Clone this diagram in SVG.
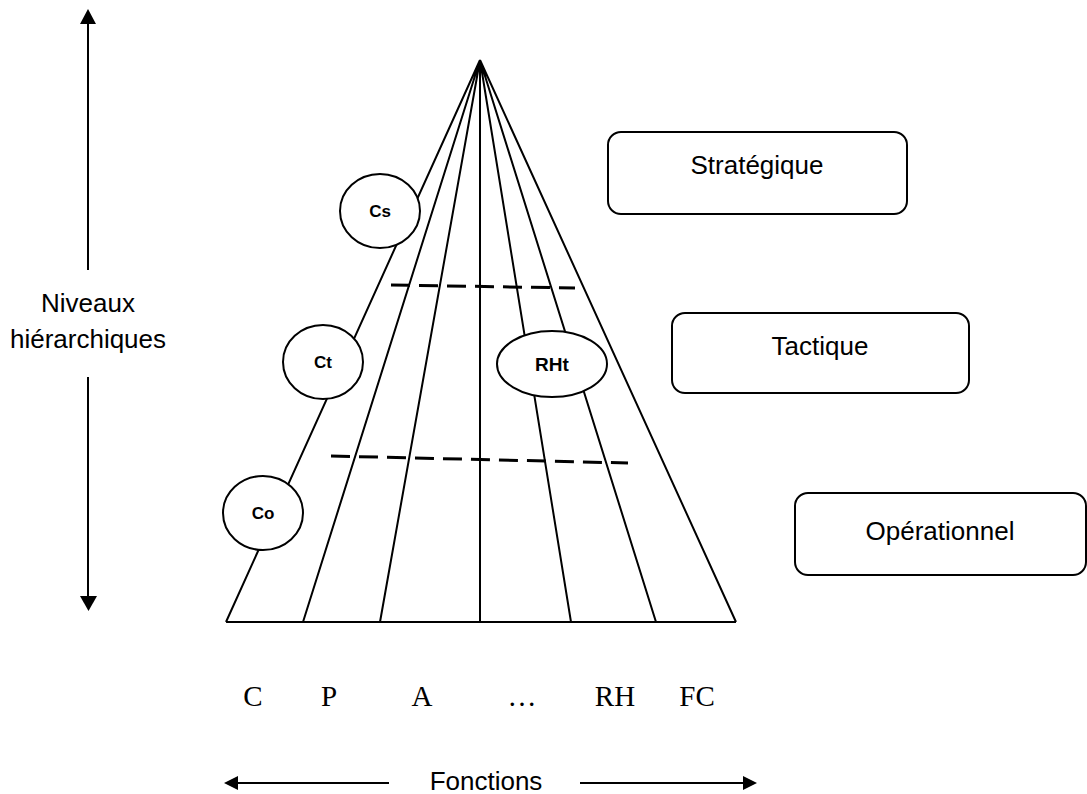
<svg xmlns="http://www.w3.org/2000/svg" width="1087" height="794" viewBox="0 0 1087 794">
<style>
.ln{stroke:#000;stroke-width:2;fill:none}
.dash{stroke:#000;stroke-width:3;stroke-dasharray:19 9;fill:none}
.node{fill:#fff;stroke:#000;stroke-width:2}
.sans{font-family:"Liberation Sans",Arial,sans-serif;font-size:26px;fill:#000;text-anchor:middle}
.lbl{font-family:"Liberation Sans",Arial,sans-serif;font-size:17px;font-weight:bold;fill:#000;text-anchor:middle}
.serif{font-family:"Liberation Serif","Times New Roman",serif;font-size:29px;fill:#000;text-anchor:middle}
</style>
<rect width="1087" height="794" fill="#fff"/>
<g id="connectors">
<path class="ln" d="M480,60 L226,622 M480,60 L303,622 M480,60 L380,622 M480,60 L480,622 M480,60 L571,622 M480,60 L656,622 M480,60 L736,622 M226,622 L736,622"/>
<path class="dash" d="M391,285 L575,288"/>
<path class="dash" d="M331,456 L628,463"/>
<line x1="88" y1="270" x2="88" y2="24" class="ln"/>
<path d="M80,24 L96,24 L88,9 Z" fill="#000"/>
<line x1="88" y1="377" x2="88" y2="596" class="ln"/>
<path d="M80,596 L97,596 L88.5,611 Z" fill="#000"/>
<line x1="389" y1="783" x2="238" y2="783" class="ln"/>
<path d="M238,776 L238,790 L224,783 Z" fill="#000"/>
<line x1="580" y1="783" x2="743" y2="783" class="ln"/>
<path d="M743,776 L743,790 L757,783 Z" fill="#000"/>
</g>
<g id="node-cs"><ellipse class="node" cx="380" cy="211" rx="40" ry="37"/><text class="lbl" x="380" y="217">Cs</text></g>
<g id="node-ct"><ellipse class="node" cx="323" cy="362" rx="40" ry="37"/><text class="lbl" x="323" y="368">Ct</text></g>
<g id="node-rht"><ellipse class="node" cx="552" cy="364" rx="55" ry="33"/><text class="lbl" x="552" y="371" style="font-size:19px">RHt</text></g>
<g id="node-co"><ellipse class="node" cx="263" cy="513" rx="40" ry="37"/><text class="lbl" x="263" y="519">Co</text></g>
<g id="node-strategique"><rect class="node" x="608" y="132" width="299" height="82" rx="13"/><text class="sans" x="757" y="174">Stratégique</text></g>
<g id="node-tactique"><rect class="node" x="672" y="313" width="297" height="80" rx="13"/><text class="sans" x="820" y="355">Tactique</text></g>
<g id="node-operationnel"><rect class="node" x="795" y="493" width="291" height="82" rx="13"/><text class="sans" x="940" y="540">Opérationnel</text></g>
<g id="axis-labels">
<text class="sans" x="88" y="312">Niveaux</text>
<text class="sans" x="88" y="348">hiérarchiques</text>
<text class="sans" x="486" y="790">Fonctions</text>
</g>
<g id="function-labels">
<text class="serif" x="253" y="706">C</text>
<text class="serif" x="329" y="706">P</text>
<text class="serif" x="422" y="706">A</text>
<text class="serif" x="522" y="706">…</text>
<text class="serif" x="615" y="706">RH</text>
<text class="serif" x="697" y="706">FC</text>
</g>
</svg>
